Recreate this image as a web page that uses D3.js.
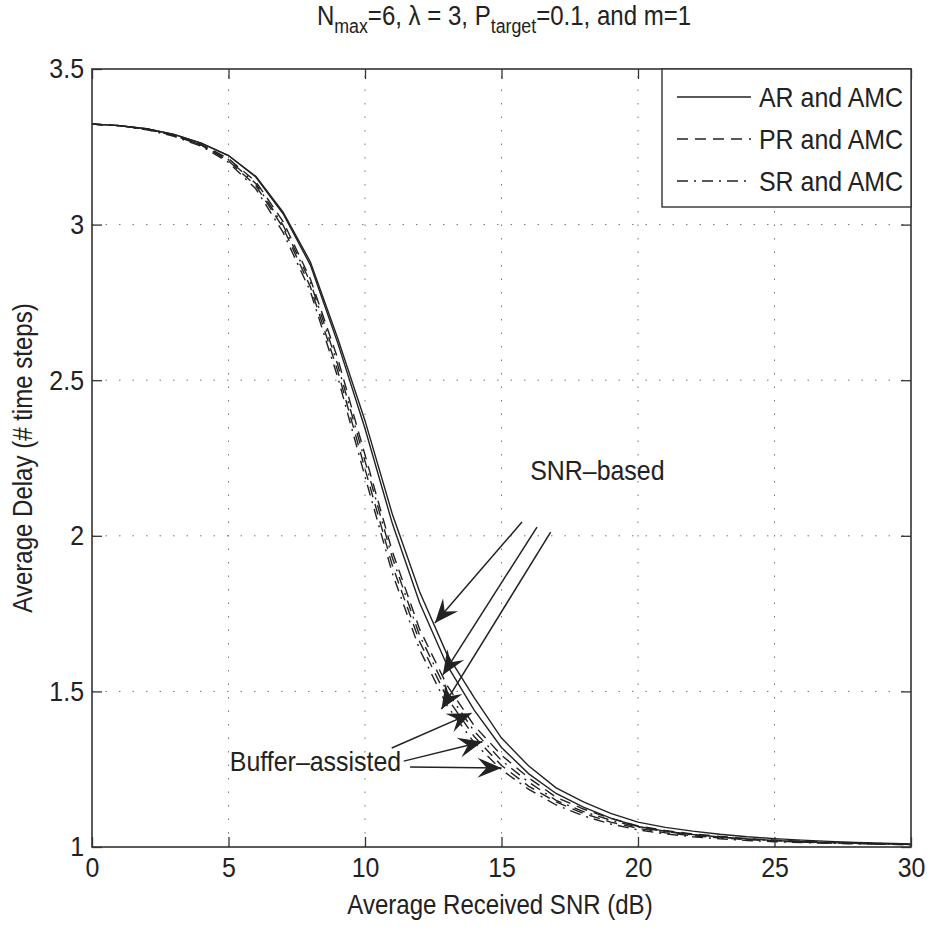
<!DOCTYPE html>
<html>
<head>
<meta charset="utf-8">
<script src="https://cdn.jsdelivr.net/npm/d3@7"></script>
<style>
  body { margin: 0; background: #fff; }
  svg text { font-family: "Liberation Sans Narrow", "Liberation Sans", Arial, sans-serif; fill: #222; }
</style>
</head>
<body>
<svg id="chart" width="930" height="932"></svg>
<script>
// x values (dB)
var snr = [0,1,2,3,4,5,6,7,8,9,10,11,12,13,14,15,16,17,18,19,20,21,22,23,24,25,26,27,28,29,30];

// average delay
var arSnr = [3.323,3.318,3.308,3.290,3.262,3.222,3.155,3.040,2.880,2.635,2.370,2.070,1.820,1.620,1.480,1.350,1.260,1.190,1.145,1.108,1.080,1.063,1.051,1.041,1.033,1.027,1.022,1.018,1.015,1.012,1.010];
var arBuf = [3.323,3.318,3.308,3.290,3.262,3.222,3.153,3.035,2.870,2.620,2.345,2.040,1.785,1.585,1.440,1.320,1.235,1.172,1.128,1.093,1.066,1.051,1.040,1.032,1.026,1.021,1.017,1.014,1.012,1.010,1.008];
var prSnr = [3.323,3.318,3.307,3.288,3.258,3.212,3.138,3.010,2.825,2.570,2.260,1.950,1.700,1.520,1.390,1.295,1.222,1.160,1.122,1.092,1.068,1.053,1.042,1.034,1.027,1.022,1.018,1.015,1.013,1.011,1.009];
var prBuf = [3.323,3.318,3.306,3.286,3.255,3.205,3.125,2.990,2.800,2.530,2.215,1.905,1.660,1.480,1.355,1.262,1.195,1.145,1.108,1.080,1.060,1.046,1.036,1.029,1.024,1.019,1.016,1.013,1.011,1.009,1.008];
var srSnr = [3.323,3.318,3.307,3.287,3.256,3.208,3.132,2.998,2.815,2.550,2.240,1.930,1.680,1.500,1.372,1.278,1.208,1.150,1.114,1.086,1.064,1.049,1.039,1.031,1.025,1.021,1.017,1.014,1.012,1.010,1.008];
var srBuf = [3.323,3.318,3.305,3.284,3.252,3.200,3.115,2.975,2.785,2.510,2.190,1.880,1.635,1.455,1.335,1.248,1.185,1.135,1.100,1.074,1.055,1.042,1.033,1.026,1.021,1.017,1.014,1.012,1.010,1.009,1.007];

var xTicks = [0,5,10,15,20,25,30];
var yTicks = [1,1.5,2,2.5,3,3.5];

var legendNames = ["AR and AMC", "PR and AMC", "SR and AMC"];
var dashes = ["none", "11,7", "11,6,2,6"];

// annotation arrows [x0,y0,x1,y1] in data units
var snrArrows = [[15.75,2.044,12.56,1.72],[16.3,2.028,12.85,1.553],[16.8,2.012,12.8,1.443]];
var bufArrows = [[10.98,1.318,13.9,1.43],[11.42,1.276,14.3,1.338],[11.65,1.257,15.0,1.254]];

var series = [
  {v: arSnr, dash: dashes[0]}, {v: arBuf, dash: dashes[0]},
  {v: prSnr, dash: dashes[1]}, {v: prBuf, dash: dashes[1]},
  {v: srSnr, dash: dashes[2]}, {v: srBuf, dash: dashes[2]}
];

var svg = d3.select("#chart");
var pLeft = 92, pRight = 911, pTop = 69, pBottom = 847;
var squeeze = "scale(0.89,1)";   // narrow helvetica look

var x = d3.scaleLinear().domain([0, 30]).range([pLeft, pRight]);
var y = d3.scaleLinear().domain([1, 3.5]).range([pBottom, pTop]);

// grid
var grid = svg.append("g").attr("class", "grid")
    .attr("stroke", "#777").attr("stroke-width", 1).attr("stroke-dasharray", "1.5,12");
grid.selectAll("line.gx").data(xTicks.slice(1, -1)).enter().append("line")
    .attr("x1", function(d){ return x(d); }).attr("x2", function(d){ return x(d); })
    .attr("y1", pBottom).attr("y2", pTop);
grid.selectAll("line.gy").data(yTicks.slice(1, -1)).enter().append("line")
    .attr("y1", function(d){ return y(d); }).attr("y2", function(d){ return y(d); })
    .attr("x1", pLeft).attr("x2", pRight);

// curves
var line = d3.line()
    .x(function(d, i){ return x(snr[i]); })
    .y(function(d){ return y(d); });

svg.append("g").attr("class", "curves")
  .selectAll("path").data(series).enter().append("path")
    .attr("d", function(s){ return line(s.v); })
    .attr("fill", "none")
    .attr("stroke", "#222")
    .attr("stroke-width", 1.4)
    .attr("stroke-dasharray", function(s){ return s.dash; });

// axes (ticks inside)
function styleAxis(g){
  g.select(".domain").remove();
  g.selectAll(".tick line").attr("stroke", "#333").attr("stroke-width", 1.3);
  g.selectAll(".tick text").attr("font-size", 28).attr("fill", "#222").attr("transform", squeeze);
}
svg.append("g").attr("transform", "translate(0," + pBottom + ")")
    .call(d3.axisBottom(x).tickValues(xTicks).tickSizeInner(-10).tickSizeOuter(0).tickPadding(10).tickFormat(d3.format("d")))
    .call(styleAxis);
svg.append("g").attr("transform", "translate(0," + pTop + ")")
    .call(d3.axisTop(x).tickValues(xTicks).tickSizeInner(-10).tickSizeOuter(0).tickFormat(""))
    .call(styleAxis);
svg.append("g").attr("transform", "translate(" + pLeft + ",0)")
    .call(d3.axisLeft(y).tickValues(yTicks).tickSizeInner(-10).tickSizeOuter(0).tickPadding(9).tickFormat(d3.format("")))
    .call(styleAxis);
svg.append("g").attr("transform", "translate(" + pRight + ",0)")
    .call(d3.axisRight(y).tickValues(yTicks).tickSizeInner(-10).tickSizeOuter(0).tickFormat(""))
    .call(styleAxis);

svg.append("rect")
    .attr("x", pLeft).attr("y", pTop).attr("width", pRight - pLeft).attr("height", pBottom - pTop)
    .attr("fill", "none").attr("stroke", "#333").attr("stroke-width", 1.6);

// arrow head
svg.append("defs").append("marker")
    .attr("id", "head").attr("markerUnits", "userSpaceOnUse")
    .attr("viewBox", "-26 -12 28 24").attr("refX", 0).attr("refY", 0)
    .attr("markerWidth", 28).attr("markerHeight", 24).attr("orient", "auto")
  .append("path").attr("d", "M0,0L-24,-10L-15,0L-24,10Z").attr("fill", "#222");

var ann = svg.append("g").attr("class", "annotations");
ann.selectAll("line").data(snrArrows.concat(bufArrows)).enter().append("line")
    .attr("x1", function(d){ return x(d[0]); }).attr("y1", function(d){ return y(d[1]); })
    .attr("x2", function(d){ return x(d[2]); }).attr("y2", function(d){ return y(d[3]); })
    .attr("stroke", "#222").attr("stroke-width", 1.5)
    .attr("marker-end", "url(#head)");

ann.append("text").attr("transform", "translate(" + x(16.05) + "," + y(2.18) + ")" + squeeze)
    .attr("font-size", 28).text("SNR\u2013based");
ann.append("text").attr("transform", "translate(" + x(5.05) + "," + y(1.245) + ")" + squeeze)
    .attr("font-size", 28).text("Buffer\u2013assisted");

// legend
var lg = svg.append("g").attr("class", "legend");
lg.append("rect").attr("x", 662).attr("y", pTop).attr("width", pRight - 662).attr("height", 138)
    .attr("fill", "#fff").attr("stroke", "#333").attr("stroke-width", 1.4);
var rows = lg.selectAll("g.row").data(legendNames).enter().append("g")
    .attr("transform", function(d, i){ return "translate(0," + (97 + i * 42) + ")"; });
rows.append("line").attr("x1", 677).attr("x2", 751).attr("y1", 0).attr("y2", 0)
    .attr("stroke", "#222").attr("stroke-width", 1.4)
    .attr("stroke-dasharray", function(d, i){ return dashes[i]; });
rows.append("text").attr("transform", "translate(759,10)" + squeeze)
    .attr("font-size", 28).text(function(d){ return d; });

// title
var title = svg.append("text").attr("transform", "translate(504,25)" + squeeze)
    .attr("text-anchor", "middle").attr("font-size", 27);
title.append("tspan").text("N");
title.append("tspan").attr("font-size", 20).attr("dy", 8).text("max");
title.append("tspan").attr("dy", -8).text("=6, \u03bb = 3, P");
title.append("tspan").attr("font-size", 20).attr("dy", 8).text("target");
title.append("tspan").attr("dy", -8).text("=0.1, and m=1");

// axis labels
svg.append("text").attr("transform", "translate(500,914)" + squeeze).attr("text-anchor", "middle")
    .attr("font-size", 27).text("Average Received SNR (dB)");
svg.append("text").attr("transform", "translate(32,458) rotate(-90) scale(0.89,1)").attr("text-anchor", "middle")
    .attr("font-size", 27).text("Average Delay (# time steps)");
</script>
</body>
</html>
